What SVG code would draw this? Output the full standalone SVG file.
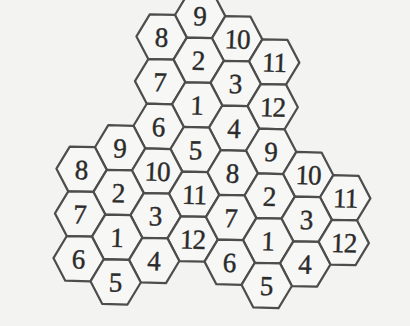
<svg xmlns="http://www.w3.org/2000/svg" xmlns:xlink="http://www.w3.org/1999/xlink" width="410" height="326" viewBox="0 0 410 326">
<style>
.hex{fill:#f7f7f5;stroke:#4d4d4d;stroke-width:2.2;stroke-linejoin:round}
text{font-family:"Liberation Serif","Times New Roman",serif;font-size:27px;fill:#2b2b2b;stroke:#2b2b2b;stroke-width:0.4;text-anchor:middle}
.two{letter-spacing:-1px}
</style>
<defs>
<polygon id="hex" class="hex" points="25.13,0 12.57,21.75 -12.57,21.75 -25.13,0 -12.57,-21.75 12.57,-21.75"/>
</defs>
<rect width="410" height="326" fill="#f3f3f1"/>
<g id="connectors"/>
<g transform="matrix(1.0017,0.02345,-0.0344,1.0272,161.63,37.01)">
<g id="top-9" transform="translate(37.7,-21.75)"><use href="#hex"/><text y="9.5">9</text></g>
<g id="top-8" transform="translate(0,0)"><use href="#hex"/><text y="9.5">8</text></g>
<g id="top-10" transform="translate(75.4,0)"><use href="#hex"/><text class="two" y="9.5">10</text></g>
<g id="top-2" transform="translate(37.7,21.75)"><use href="#hex"/><text y="9.5">2</text></g>
<g id="top-11" transform="translate(113.1,21.75)"><use href="#hex"/><text class="two" y="9.5">11</text></g>
<g id="top-7" transform="translate(0,43.5)"><use href="#hex"/><text y="9.5">7</text></g>
<g id="top-3" transform="translate(75.4,43.5)"><use href="#hex"/><text y="9.5">3</text></g>
<g id="top-1" transform="translate(37.7,65.25)"><use href="#hex"/><text y="9.5">1</text></g>
<g id="top-12" transform="translate(113.1,65.25)"><use href="#hex"/><text class="two" y="9.5">12</text></g>
<g id="top-6" transform="translate(0,87)"><use href="#hex"/><text y="9.5">6</text></g>
<g id="top-4" transform="translate(75.4,87)"><use href="#hex"/><text y="9.5">4</text></g>
<g id="top-5" transform="translate(37.7,108.75)"><use href="#hex"/><text y="9.5">5</text></g>

<g id="left-9" transform="translate(-37.7,108.75)"><use href="#hex"/><text y="9.5">9</text></g>
<g id="left-8" transform="translate(-75.4,130.5)"><use href="#hex"/><text y="9.5">8</text></g>
<g id="left-10" transform="translate(0,130.5)"><use href="#hex"/><text class="two" y="9.5">10</text></g>
<g id="left-2" transform="translate(-37.7,152.25)"><use href="#hex"/><text y="9.5">2</text></g>
<g id="left-11" transform="translate(37.7,152.25)"><use href="#hex"/><text class="two" y="9.5">11</text></g>
<g id="left-7" transform="translate(-75.4,174)"><use href="#hex"/><text y="9.5">7</text></g>
<g id="left-3" transform="translate(0,174)"><use href="#hex"/><text y="9.5">3</text></g>
<g id="left-1" transform="translate(-37.7,195.75)"><use href="#hex"/><text y="9.5">1</text></g>
<g id="left-12" transform="translate(37.7,195.75)"><use href="#hex"/><text class="two" y="9.5">12</text></g>
<g id="left-6" transform="translate(-75.4,217.5)"><use href="#hex"/><text y="9.5">6</text></g>
<g id="left-4" transform="translate(0,217.5)"><use href="#hex"/><text y="9.5">4</text></g>
<g id="left-5" transform="translate(-37.7,239.25)"><use href="#hex"/><text y="9.5">5</text></g>

<g id="right-9" transform="translate(113.1,108.75)"><use href="#hex"/><text y="9.5">9</text></g>
<g id="right-8" transform="translate(75.4,130.5)"><use href="#hex"/><text y="9.5">8</text></g>
<g id="right-10" transform="translate(150.8,130.5)"><use href="#hex"/><text class="two" y="9.5">10</text></g>
<g id="right-2" transform="translate(113.1,152.25)"><use href="#hex"/><text y="9.5">2</text></g>
<g id="right-11" transform="translate(188.5,152.25)"><use href="#hex"/><text class="two" y="9.5">11</text></g>
<g id="right-7" transform="translate(75.4,174)"><use href="#hex"/><text y="9.5">7</text></g>
<g id="right-3" transform="translate(150.8,174)"><use href="#hex"/><text y="9.5">3</text></g>
<g id="right-1" transform="translate(113.1,195.75)"><use href="#hex"/><text y="9.5">1</text></g>
<g id="right-12" transform="translate(188.5,195.75)"><use href="#hex"/><text class="two" y="9.5">12</text></g>
<g id="right-6" transform="translate(75.4,217.5)"><use href="#hex"/><text y="9.5">6</text></g>
<g id="right-4" transform="translate(150.8,217.5)"><use href="#hex"/><text y="9.5">4</text></g>
<g id="right-5" transform="translate(113.1,239.25)"><use href="#hex"/><text y="9.5">5</text></g>
</g>
</svg>
